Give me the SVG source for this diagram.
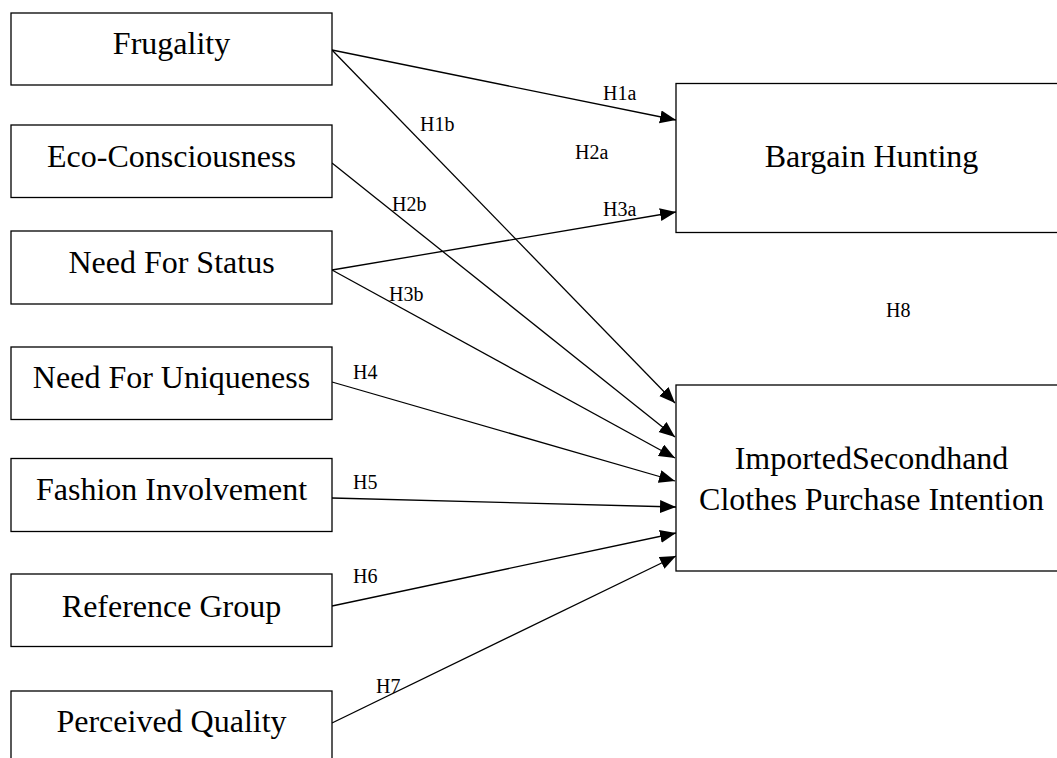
<svg xmlns="http://www.w3.org/2000/svg" width="1057" height="758" viewBox="0 0 1057 758">
<style>
.box{fill:#fff;stroke:#000;stroke-width:1.3}
.nt{font-family:"Liberation Serif","Times New Roman",serif;font-size:32px;fill:#000;text-anchor:middle}
.lb{font-family:"Liberation Serif","Times New Roman",serif;font-size:20px;fill:#000}
.edge{stroke:#000;stroke-width:1.3;fill:none;marker-end:url(#arr)}
</style>
<defs>
<marker id="arr" markerUnits="userSpaceOnUse" markerWidth="17" markerHeight="14" refX="16" refY="6.5" orient="auto">
<path d="M0,0 L16,6.5 L0,13 z" fill="#000"/>
</marker>
</defs>
<rect width="1057" height="758" fill="#fff"/>
<g id="connectors">
<line class="edge" x1="332" y1="50" x2="676" y2="120"/>
<line class="edge" x1="332" y1="50" x2="675" y2="403"/>
<line class="edge" x1="332" y1="163" x2="675" y2="437"/>
<line class="edge" x1="332" y1="270" x2="676" y2="212"/>
<line class="edge" x1="332" y1="270" x2="675" y2="458"/>
<line class="edge" x1="332" y1="382" x2="675" y2="481"/>
<line class="edge" x1="332" y1="498" x2="676" y2="507"/>
<line class="edge" x1="332" y1="606" x2="676" y2="533"/>
<line class="edge" x1="332" y1="723" x2="676" y2="556"/>
</g>
<g id="labels">
<text class="lb" x="603" y="100">H1a</text>
<text class="lb" x="420" y="131">H1b</text>
<text class="lb" x="575" y="159">H2a</text>
<text class="lb" x="392" y="211">H2b</text>
<text class="lb" x="603" y="216">H3a</text>
<text class="lb" x="389" y="301">H3b</text>
<text class="lb" x="353" y="379">H4</text>
<text class="lb" x="353" y="489">H5</text>
<text class="lb" x="353" y="583">H6</text>
<text class="lb" x="376" y="693">H7</text>
<text class="lb" x="886" y="317">H8</text>
</g>
<g id="frugality"><rect class="box" x="11" y="13" width="321" height="72"/><text class="nt" x="171.5" y="54">Frugality</text></g>
<g id="eco"><rect class="box" x="11" y="125" width="321" height="72.5"/><text class="nt" x="171.5" y="166.5">Eco-Consciousness</text></g>
<g id="status"><rect class="box" x="11" y="231" width="321" height="73"/><text class="nt" x="171.5" y="273">Need For Status</text></g>
<g id="uniqueness"><rect class="box" x="11" y="347" width="321" height="72.5"/><text class="nt" x="171.5" y="388">Need For Uniqueness</text></g>
<g id="fashion"><rect class="box" x="11" y="458.5" width="321" height="73"/><text class="nt" x="171.5" y="500">Fashion Involvement</text></g>
<g id="reference"><rect class="box" x="11" y="574" width="321" height="72.5"/><text class="nt" x="171.5" y="616.5">Reference Group</text></g>
<g id="quality"><rect class="box" x="11" y="691" width="321" height="73"/><text class="nt" x="171.5" y="732">Perceived Quality</text></g>
<g id="bargain"><rect class="box" x="676" y="83.5" width="400" height="149"/><text class="nt" x="871.5" y="167">Bargain Hunting</text></g>
<g id="intention"><rect class="box" x="676" y="385" width="400" height="186"/><text class="nt" x="871.5" y="469">ImportedSecondhand</text><text class="nt" x="871.5" y="510">Clothes Purchase Intention</text></g>
</svg>
